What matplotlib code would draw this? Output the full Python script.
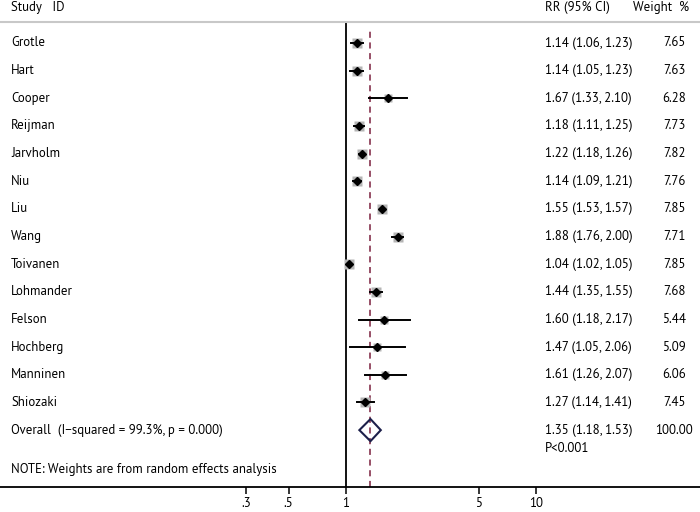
import numpy as np
import matplotlib
matplotlib.use("Agg")
import matplotlib.pyplot as plt
import matplotlib.transforms as mtransforms
from matplotlib.patches import Polygon

plt.rcParams['font.family'] = ['Source Sans Pro', 'PT Sans', 'Roboto', 'DejaVu Sans']

# study data
studies = ['Grotle', 'Hart', 'Cooper', 'Reijman', 'Jarvholm', 'Niu', 'Liu', 'Wang',
           'Toivanen', 'Lohmander', 'Felson', 'Hochberg', 'Manninen', 'Shiozaki']
rr = [1.14, 1.14, 1.67, 1.18, 1.22, 1.14, 1.55, 1.88, 1.04, 1.44, 1.60, 1.47, 1.61, 1.27]
lo = [1.06, 1.05, 1.33, 1.11, 1.18, 1.09, 1.53, 1.76, 1.02, 1.35, 1.18, 1.05, 1.26, 1.14]
hi = [1.23, 1.23, 2.10, 1.25, 1.26, 1.21, 1.57, 2.00, 1.05, 1.55, 2.17, 2.06, 2.07, 1.41]
weights = [7.65, 7.63, 6.28, 7.73, 7.82, 7.76, 7.85, 7.71, 7.85, 7.68, 5.44, 5.09, 6.06, 7.45]

overall_rr, overall_lo, overall_hi, overall_w = 1.35, 1.18, 1.53, 100.00
overall_label = 'Overall  (I\u2212squared = 99.3%, p = 0.000)'
note = 'NOTE: Weights are from random effects analysis'

xticks = [0.3, 0.5, 1, 5, 10]
xticklabels = ['.3', '.5', '1', '5', '10']

fig = plt.figure(figsize=(7, 5.12), dpi=100)
W, H = 700, 512
ax_top, ax_bot = 22, 487
ax = fig.add_axes([0, (H - ax_bot) / H, 1, (ax_bot - ax_top) / H])

# pick a font size so the note line is as wide as in the original (~267 px)
probe = fig.text(0, 0, note, fontsize=10)
fs = 10 * 267 / probe.get_window_extent(fig.canvas.get_renderer()).width
probe.remove()

row0, step = 43, 27.65
ax.set_xscale('log')
ax.set_xlim(0.01516, 73.2)
ax.set_ylim((ax_bot - row0) / step, (ax_top - row0) / step)

ys = np.arange(len(studies))
n = len(studies)

# null line and overall effect line
ax.axvline(1, color='black', lw=1.3, zorder=2)
ax.axvline(overall_rr, ymin=0, ymax=0.985, color='#7a1f3d', lw=1.1,
           dashes=(4, 3), zorder=1)

for y, r, l, h, w in zip(ys, rr, lo, hi, weights):
    ax.plot(r, y, marker='s', ms=2.5 * np.sqrt(w), color='#b5b5b5',
            mec='none', zorder=3)
    ax.plot([l, h], [y, y], color='black', lw=1.4, zorder=4)
    ax.plot(r, y, marker='D', ms=3.6, color='black', zorder=5)

# overall diamond
hgt = 0.4
diamond = Polygon([[overall_lo, n], [overall_rr, n - hgt], [overall_hi, n],
                   [overall_rr, n + hgt]], closed=True, fill=False,
                  edgecolor='#1c1f4a', lw=1.5, zorder=5)
ax.add_patch(diamond)

# spines and ticks
for s in ['left', 'right']:
    ax.spines[s].set_visible(False)
ax.spines['top'].set_color('#c8c8c8')
ax.spines['top'].set_linewidth(1.5)
ax.spines['bottom'].set_linewidth(1.3)
ax.set_yticks([])
ax.set_xticks(xticks)
ax.set_xticklabels(xticklabels, fontsize=fs)
ax.xaxis.set_minor_locator(matplotlib.ticker.NullLocator())
ax.tick_params(axis='x', direction='out', length=5, width=1.1, pad=2)

# text columns
tr = mtransforms.blended_transform_factory(ax.transAxes, ax.transData)
x_name, x_rr, x_w = 11 / W, 545 / W, 674 / W
y_head = (8 - row0) / step

ax.text(x_name, y_head, 'Study   ID', transform=tr, fontsize=fs, va='center')
ax.text(x_rr, y_head, 'RR (95% CI)', transform=tr, fontsize=fs, va='center')
ax.text(633 / W, y_head, 'Weight  %', transform=tr, fontsize=fs, va='center')

for y, s, r, l, h, w in zip(ys, studies, rr, lo, hi, weights):
    ax.text(x_name, y, s, transform=tr, fontsize=fs, va='center')
    ax.text(x_rr, y, f'{r:.2f} ({l:.2f}, {h:.2f})', transform=tr, fontsize=fs, va='center')
    ax.text(x_w, y, f'{w:.2f}', transform=tr, fontsize=fs, va='center', ha='center')

ax.text(x_name, n, overall_label, transform=tr, fontsize=fs, va='center')
ax.text(x_rr, n, f'{overall_rr:.2f} ({overall_lo:.2f}, {overall_hi:.2f})',
        transform=tr, fontsize=fs, va='center')
ax.text(x_w, n, f'{overall_w:.2f}', transform=tr, fontsize=fs, va='center', ha='center')
ax.text(x_rr, (449 - row0) / step, 'P<0.001', transform=tr, fontsize=fs, va='center')
ax.text(x_name, (469 - row0) / step, note, transform=tr, fontsize=fs, va='center')

fig.savefig('out.png', dpi=100)
